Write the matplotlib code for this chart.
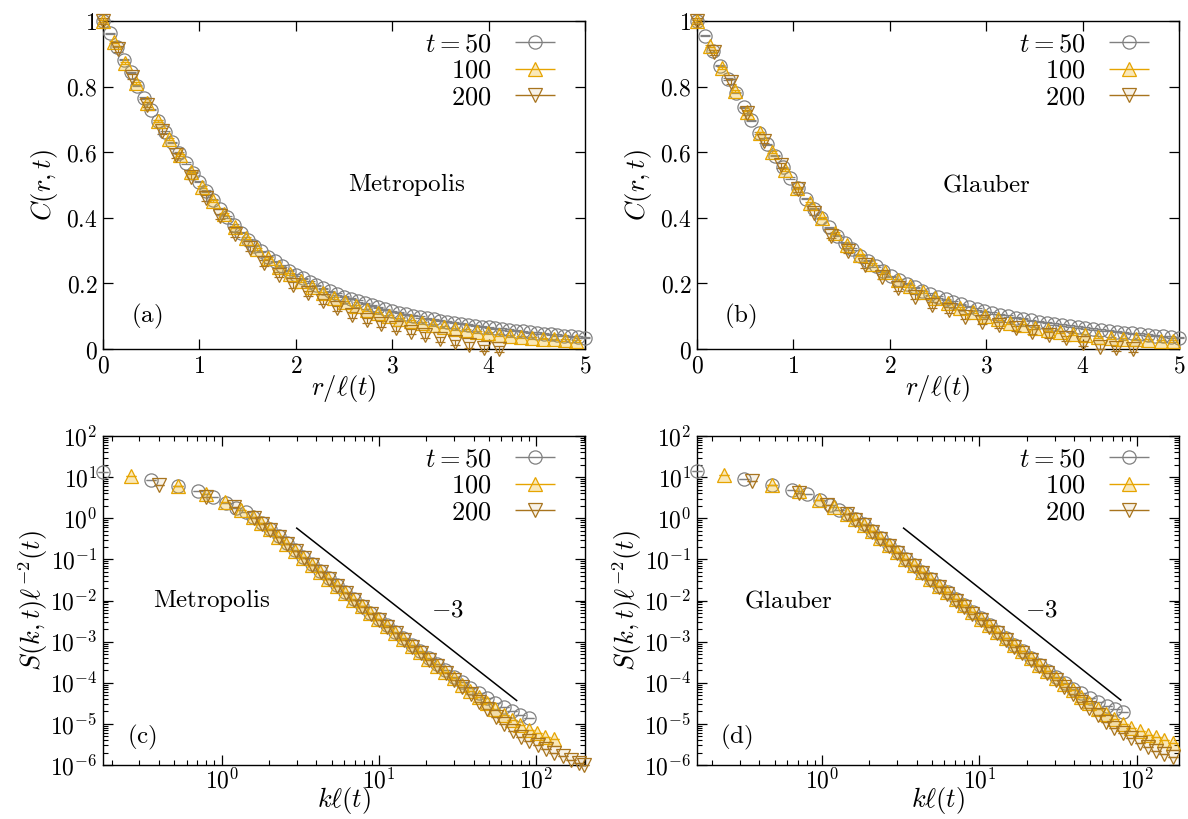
import numpy as np
import matplotlib
matplotlib.use("Agg")
import matplotlib.pyplot as plt
from matplotlib.ticker import FixedLocator, FuncFormatter, LogLocator, NullFormatter
from matplotlib.legend_handler import HandlerErrorbar

plt.rcParams['mathtext.fontset'] = 'cm'
plt.rcParams['font.family'] = ['DejaVu Serif']

# ---------------- data: C(r,t) vs r/l(t), Metropolis ----------------
a_x50 = [0, 0.071, 0.143, 0.214, 0.286, 0.357, 0.429, 0.5, 0.571, 0.643, 0.714, 0.786, 0.857, 0.929,
         1.0, 1.071, 1.143, 1.214, 1.286, 1.357, 1.429, 1.5, 1.571, 1.643, 1.714, 1.786, 1.857, 1.929,
         2.0, 2.071, 2.143, 2.214, 2.286, 2.357, 2.429, 2.5, 2.571, 2.643, 2.714, 2.786, 2.857, 2.929,
         3.0, 3.071, 3.143, 3.214, 3.286, 3.357, 3.429, 3.5, 3.571, 3.643, 3.714, 3.786, 3.857, 3.929,
         4.0, 4.071, 4.143, 4.214, 4.286, 4.357, 4.429, 4.5, 4.571, 4.643, 4.714, 4.786, 4.857, 4.929, 5.0]
a_C50 = [1.000, 0.962, 0.922, 0.882, 0.843, 0.803, 0.765, 0.730, 0.695, 0.662, 0.630, 0.598, 0.567, 0.538,
         0.510, 0.482, 0.455, 0.428, 0.402, 0.378, 0.355, 0.333, 0.315, 0.298, 0.282, 0.267, 0.253, 0.239,
         0.226, 0.215, 0.204, 0.194, 0.185, 0.176, 0.168, 0.160, 0.153, 0.146, 0.139, 0.133, 0.127, 0.121,
         0.115, 0.111, 0.106, 0.102, 0.098, 0.094, 0.090, 0.086, 0.083, 0.080, 0.077, 0.074, 0.071, 0.068,
         0.066, 0.063, 0.061, 0.058, 0.056, 0.054, 0.051, 0.049, 0.047, 0.045, 0.043, 0.041, 0.039, 0.037, 0.035]
a_x100 = [0, 0.114, 0.228, 0.342, 0.456, 0.57, 0.684, 0.798, 0.912, 1.026, 1.14, 1.254, 1.368, 1.482,
          1.596, 1.71, 1.824, 1.938, 2.052, 2.166, 2.28, 2.394, 2.508, 2.622, 2.736, 2.85, 2.964, 3.078,
          3.192, 3.306, 3.42, 3.534, 3.648, 3.762, 3.876, 3.99, 4.104, 4.218, 4.332, 4.446, 4.56, 4.674,
          4.788, 4.902]
a_C100 = [1.000, 0.935, 0.873, 0.810, 0.750, 0.695, 0.640, 0.590, 0.540, 0.495, 0.452, 0.412, 0.372, 0.337,
          0.305, 0.276, 0.250, 0.228, 0.207, 0.188, 0.171, 0.156, 0.142, 0.130, 0.119, 0.109, 0.100, 0.092,
          0.085, 0.078, 0.072, 0.066, 0.061, 0.057, 0.052, 0.048, 0.044, 0.041, 0.038, 0.035, 0.032, 0.029,
          0.027, 0.024]
a_x200 = [0, 0.152, 0.304, 0.456, 0.608, 0.76, 0.912, 1.064, 1.216, 1.368, 1.52, 1.672, 1.824, 1.976,
          2.128, 2.28, 2.432, 2.584, 2.736, 2.888, 3.04, 3.192, 3.344, 3.496, 3.648, 3.8, 3.952, 4.104]
a_C200 = [1.0, 0.915, 0.83, 0.745, 0.665, 0.59, 0.525, 0.46, 0.405, 0.35, 0.307, 0.262, 0.226, 0.195,
          0.17, 0.145, 0.124, 0.104, 0.088, 0.076, 0.063, 0.053, 0.043, 0.030, 0.020, 0.012, 0.003, 0.0]

# ---------------- data: C(r,t) vs r/l(t), Glauber ----------------
b_x50 = [0, 0.081, 0.161, 0.242, 0.322, 0.403, 0.484, 0.564, 0.645, 0.725, 0.806, 0.887, 0.967, 1.048,
         1.128, 1.209, 1.29, 1.37, 1.451, 1.531, 1.612, 1.693, 1.773, 1.854, 1.934, 2.015, 2.096, 2.176,
         2.257, 2.337, 2.418, 2.499, 2.579, 2.66, 2.74, 2.821, 2.902, 2.982, 3.063, 3.143, 3.224, 3.305,
         3.385, 3.466, 3.546, 3.627, 3.708, 3.788, 3.869, 3.949, 4.03, 4.111, 4.191, 4.272, 4.352, 4.433,
         4.514, 4.594, 4.675, 4.755, 4.836, 4.917, 4.997]
b_C50 = [1.000, 0.955, 0.909, 0.864, 0.823, 0.781, 0.737, 0.697, 0.659, 0.624, 0.589, 0.554, 0.521, 0.490,
         0.458, 0.428, 0.398, 0.371, 0.346, 0.324, 0.305, 0.285, 0.269, 0.253, 0.237, 0.222, 0.210, 0.199,
         0.188, 0.178, 0.168, 0.159, 0.151, 0.143, 0.136, 0.129, 0.122, 0.115, 0.110, 0.105, 0.101, 0.096,
         0.092, 0.087, 0.083, 0.080, 0.076, 0.073, 0.070, 0.067, 0.064, 0.061, 0.058, 0.056, 0.053, 0.050,
         0.048, 0.046, 0.043, 0.041, 0.039, 0.037, 0.035]
b_x100 = [0, 0.13, 0.26, 0.39, 0.52, 0.65, 0.78, 0.91, 1.04, 1.17, 1.3, 1.43, 1.56, 1.69, 1.82, 1.95,
          2.08, 2.21, 2.34, 2.47, 2.6, 2.73, 2.86, 2.99, 3.12, 3.25, 3.38, 3.51, 3.64, 3.77, 3.9, 4.03,
          4.16, 4.29, 4.42, 4.55, 4.68, 4.81, 4.94]
b_C100 = [1.000, 0.925, 0.857, 0.787, 0.722, 0.660, 0.600, 0.546, 0.492, 0.445, 0.400, 0.355, 0.318, 0.288,
          0.260, 0.235, 0.211, 0.191, 0.173, 0.157, 0.141, 0.126, 0.112, 0.100, 0.090, 0.080, 0.072, 0.064,
          0.057, 0.051, 0.047, 0.042, 0.038, 0.034, 0.031, 0.029, 0.027, 0.025, 0.023]
b_x200 = [0, 0.174, 0.348, 0.522, 0.696, 0.87, 1.044, 1.218, 1.392, 1.566, 1.74, 1.914, 2.088, 2.262,
          2.436, 2.61, 2.784, 2.958, 3.132, 3.306, 3.48, 3.654, 3.828, 4.002, 4.176, 4.35, 4.524]
b_C200 = [1.0, 0.905, 0.815, 0.72, 0.635, 0.56, 0.487, 0.416, 0.345, 0.30, 0.255, 0.22, 0.185, 0.16,
          0.134, 0.119, 0.099, 0.083, 0.073, 0.063, 0.053, 0.043, 0.033, 0.017, 0.007, 0.002, 0.0]

# ---------------- data: S(k,t) l^-2 vs k l(t), Metropolis ----------------
c_k50 = [0.177, 0.354, 0.531, 0.708, 0.885, 1.06, 1.24, 1.42, 1.59, 1.80, 2.03, 2.30, 2.60, 2.93, 3.31,
         3.74, 4.23, 4.78, 5.40, 6.10, 6.89, 7.79, 8.80, 9.94, 11.2, 12.7, 14.3, 16.2, 18.3, 20.7, 23.4,
         26.4, 29.8, 33.7, 38.1, 43.0, 48.6, 54.9, 62.1, 70.1, 79.3, 89.6]
c_S50 = [13.5, 8.3, 6.2, 4.6, 3.2, 2.35, 1.78, 1.38, 1.07, 0.78, 0.54, 0.36, 0.245, 0.166, 0.112, 0.076,
         0.051, 0.035, 0.0234, 0.0158, 0.0107, 0.0074, 0.0051, 0.00363, 0.00251, 0.00174, 0.0012, 0.00083,
         0.00058, 0.0004, 0.00028, 0.0002, 1.41e-4, 1.02e-4, 7.6e-5, 5.6e-5, 4.3e-5, 3.3e-5, 2.6e-5, 2.0e-5,
         1.66e-5, 1.41e-5]
c_k100 = [0.264, 0.528, 0.792, 1.056, 1.32, 1.584, 1.79, 2.02, 2.29, 2.58, 2.92, 3.30, 3.73, 4.21, 4.76,
          5.38, 6.08, 6.87, 7.76, 8.77, 9.91, 11.2, 12.7, 14.3, 16.2, 18.3, 20.6, 23.3, 26.4, 29.8, 33.7,
          38.0, 43.0, 48.6, 54.9, 62.0, 70.1, 79.2, 89.5, 101, 114, 129]
c_S100 = [10.7, 6.2, 3.9, 2.5, 1.55, 1.05, 0.76, 0.54, 0.355, 0.24, 0.162, 0.11, 0.074, 0.05, 0.034, 0.023,
          0.0155, 0.0105, 0.0072, 0.005, 0.00347, 0.0024, 0.00166, 0.00115, 0.00079, 0.00055, 0.00038,
          0.00026, 0.000182, 1.29e-4, 8.9e-5, 6.3e-5, 4.5e-5, 3.2e-5, 2.3e-5, 1.66e-5, 1.23e-5, 9.3e-6,
          7.2e-6, 5.9e-6, 4.9e-6, 4.3e-6]
c_k200 = [0.40, 0.80, 1.20, 1.60, 1.81, 2.04, 2.31, 2.61, 2.95, 3.33, 3.76, 4.25, 4.80, 5.43, 6.13, 6.93,
          7.83, 8.85, 10.0, 11.3, 12.8, 14.4, 16.3, 18.4, 20.8, 23.5, 26.6, 30.0, 33.9, 38.3, 43.3, 48.9,
          55.3, 62.5, 70.6, 79.8, 90.2, 102, 115, 130, 147, 166, 188, 202]
c_S200 = [6.5, 3.2, 1.86, 1.02, 0.74, 0.51, 0.35, 0.234, 0.158, 0.107, 0.072, 0.049, 0.033, 0.0224, 0.0151,
          0.0102, 0.0069, 0.0048, 0.0033, 0.00229, 0.00158, 0.0011, 0.00076, 0.00052, 0.00036, 0.000251,
          0.000174, 1.17e-4, 7.9e-5, 5.2e-5, 3.5e-5, 2.3e-5, 1.5e-5, 1.0e-5, 6.6e-6, 4.9e-6, 3.9e-6, 3.0e-6,
          2.4e-6, 1.95e-6, 1.62e-6, 1.32e-6, 1.12e-6, 1.0e-6]

# ---------------- data: S(k,t) l^-2 vs k l(t), Glauber ----------------
d_k50 = [0.161, 0.322, 0.483, 0.644, 0.805, 0.966, 1.127, 1.288, 1.449, 1.64, 1.85, 2.09, 2.36, 2.67,
         3.02, 3.41, 3.85, 4.35, 4.92, 5.56, 6.28, 7.10, 8.02, 9.06, 10.2, 11.6, 13.1, 14.8, 16.7, 18.9,
         21.3, 24.1, 27.2, 30.8, 34.8, 39.3, 44.4, 50.2, 56.7, 64.1, 72.4, 81.8]
d_S50 = [14.1, 8.9, 6.6, 5.0, 3.8, 2.75, 2.09, 1.62, 1.30, 0.98, 0.71, 0.49, 0.339, 0.224, 0.151, 0.105,
         0.072, 0.049, 0.034, 0.0229, 0.0158, 0.011, 0.0076, 0.0052, 0.0037, 0.0025, 0.00174, 0.0012,
         0.00083, 0.00058, 0.0004, 0.000275, 0.00019, 1.35e-4, 9.8e-5, 7.2e-5, 5.5e-5, 4.3e-5, 3.4e-5,
         2.75e-5, 2.3e-5, 1.95e-5]
d_k100 = [0.24, 0.48, 0.72, 0.96, 1.2, 1.44, 1.63, 1.84, 2.08, 2.35, 2.65, 3.0, 3.39, 3.83, 4.33, 4.89,
          5.52, 6.24, 7.05, 7.97, 9.0, 10.2, 11.5, 13.0, 14.7, 16.6, 18.7, 21.2, 23.9, 27.0, 30.5, 34.5,
          39.0, 44.0, 49.8, 56.2, 63.5, 71.8, 81.1, 91.7, 104, 117, 132, 149, 169]
d_S100 = [11.2, 6.6, 4.6, 2.8, 1.86, 1.29, 0.95, 0.69, 0.49, 0.339, 0.229, 0.155, 0.105, 0.072, 0.049,
          0.034, 0.0229, 0.0158, 0.011, 0.0076, 0.0052, 0.0036, 0.0025, 0.00174, 0.0012, 0.00083, 0.00058,
          0.0004, 0.000275, 0.00019, 1.32e-4, 9.1e-5, 6.5e-5, 4.6e-5, 3.2e-5, 2.3e-5, 1.74e-5, 1.32e-5,
          1.02e-5, 8.1e-6, 6.6e-6, 5.5e-6, 4.7e-6, 4.1e-6, 3.5e-6]
d_k200 = [0.36, 0.72, 1.08, 1.44, 1.63, 1.84, 2.08, 2.35, 2.65, 3.0, 3.39, 3.83, 4.33, 4.89, 5.52, 6.24,
          7.05, 7.97, 9.0, 10.2, 11.5, 13.0, 14.7, 16.6, 18.7, 21.2, 23.9, 27.0, 30.5, 34.5, 39.0, 44.0,
          49.8, 56.2, 63.5, 71.8, 81.1, 91.7, 104, 117, 132, 149, 169]
d_S200 = [7.9, 4.2, 2.14, 1.26, 0.93, 0.68, 0.47, 0.316, 0.214, 0.145, 0.098, 0.068, 0.046, 0.031, 0.021,
          0.0145, 0.01, 0.0069, 0.0048, 0.0033, 0.00229, 0.00158, 0.0011, 0.00076, 0.00052, 0.00036,
          0.000251, 0.00017, 1.15e-4, 7.8e-5, 5.2e-5, 3.5e-5, 2.4e-5, 1.62e-5, 1.12e-5, 7.9e-6, 5.9e-6,
          4.5e-6, 3.5e-6, 2.75e-6, 2.24e-6, 1.86e-6, 1.58e-6]

# error bar half-widths (small)
err_lin = {50: 0.002, 100: 0.003, 200: 0.008}
err_log = 0.0

# power-law guide lines (slope -3)
guide_c_k = [3.0, 75.0]
guide_c_S = [0.575, 3.7e-5]
guide_d_k = [3.3, 79.0]
guide_d_S = [0.575, 3.8e-5]

labels_t = ['$t=50$', '$100$', '$200$']
times = [50, 100, 200]
colors = {50: '#808080', 100: '#e6a400', 200: '#a8741e'}
markers = {50: 'o', 100: '^', 200: 'v'}
faces = {50: 'none', 100: (0.93, 0.70, 0.10, 0.30), 200: (0.72, 0.50, 0.15, 0.10)}

FS = 17
fig = plt.figure(figsize=(11.88, 8.19), dpi=100)
W, H = 1188, 819
def pos(l, r, t, b):
    return [l / W, 1 - b / H, (r - l) / W, (b - t) / H]

ax_a = fig.add_axes(pos(103, 585, 21, 349))
ax_b = fig.add_axes(pos(697, 1179, 21, 349))
ax_c = fig.add_axes(pos(103, 585, 436, 765))
ax_d = fig.add_axes(pos(697, 1179, 436, 765))

ms = 9.5
def plot_series(ax, x, y, t, yerr):
    ax.errorbar(x, y, yerr=yerr, fmt=markers[t], ms=ms if t == 50 else ms + 0.5,
                mfc=faces[t], mec=colors[t], mew=0.9, ecolor=colors[t], elinewidth=0.8,
                capsize=3.5, capthick=0.8, clip_on=False, zorder=3)

def add_legend(ax):
    handles = []
    for t in times:
        h = ax.errorbar([], [], xerr=[], fmt=markers[t], ms=ms, mfc=faces[t], mec=colors[t],
                        mew=0.9, ecolor=colors[t], elinewidth=1.0, capsize=5, capthick=1.0)
        handles.append(h)
    ax.legend(handles, labels_t, loc='upper right', frameon=False, markerfirst=False,
              numpoints=1, fontsize=FS + 2, handlelength=1.6, handletextpad=0.85,
              labelspacing=0.05, borderaxespad=0.0, bbox_to_anchor=(0.962, 1.0),
              handler_map={type(handles[0]): HandlerErrorbar(xerr_size=0.76)})

def style_lin(ax):
    ax.set_xlim(0, 5)
    ax.set_ylim(0, 1)
    ax.xaxis.set_major_locator(FixedLocator([0, 1, 2, 3, 4, 5]))
    ax.yaxis.set_major_locator(FixedLocator([0, 0.2, 0.4, 0.6, 0.8, 1.0]))
    ax.xaxis.set_major_formatter(FuncFormatter(lambda v, p: '$%g$' % v))
    ax.yaxis.set_major_formatter(FuncFormatter(lambda v, p: '$%g$' % v))
    ax.tick_params(which='major', direction='in', top=True, right=True, length=7, width=0.9,
                   labelsize=FS, pad=4)
    ax.set_xlabel(r'$r/\ell(t)$', fontsize=FS + 2, labelpad=-3)
    ax.set_ylabel(r'$C(r,t)$', fontsize=FS + 2, labelpad=4)

def style_log(ax, xlim):
    ax.set_xscale('log')
    ax.set_yscale('log')
    ax.set_xlim(*xlim)
    ax.set_ylim(1e-6, 1e2)
    ax.xaxis.set_major_locator(LogLocator(base=10, numticks=20))
    ax.yaxis.set_major_locator(LogLocator(base=10, numticks=20))
    ax.xaxis.set_minor_locator(LogLocator(base=10, subs=np.arange(2, 10), numticks=20))
    ax.yaxis.set_minor_locator(LogLocator(base=10, subs=np.arange(2, 10), numticks=20))
    fmt = FuncFormatter(lambda v, p: '$10^{%d}$' % int(round(np.log10(v))))
    ax.xaxis.set_major_formatter(fmt)
    ax.yaxis.set_major_formatter(fmt)
    ax.xaxis.set_minor_formatter(NullFormatter())
    ax.yaxis.set_minor_formatter(NullFormatter())
    ax.tick_params(which='major', direction='in', top=True, right=True, length=7, width=0.9,
                   labelsize=FS, pad=4)
    ax.tick_params(axis='x', which='major', pad=2)
    ax.tick_params(which='minor', direction='in', top=True, right=True, length=3.5, width=0.8)
    ax.set_xlabel(r'$k\ell(t)$', fontsize=FS + 2, labelpad=-6)
    ax.set_ylabel(r'$S(k,t)\ell^{-2}(t)$', fontsize=FS + 2, labelpad=0)

# ---- (a)
style_lin(ax_a)
plot_series(ax_a, a_x50, a_C50, 50, err_lin[50])
plot_series(ax_a, a_x100, a_C100, 100, err_lin[100])
plot_series(ax_a, a_x200, a_C200, 200, err_lin[200])
add_legend(ax_a)
ax_a.text(0.63, 0.5, r'$\mathrm{Metropolis}$', transform=ax_a.transAxes, fontsize=FS + 1,
          ha='center', va='center')
ax_a.text(0.09, 0.1, r'$(\mathrm{a})$', transform=ax_a.transAxes, fontsize=FS + 1,
          ha='center', va='center')

# ---- (b)
style_lin(ax_b)
plot_series(ax_b, b_x50, b_C50, 50, err_lin[50])
plot_series(ax_b, b_x100, b_C100, 100, err_lin[100])
plot_series(ax_b, b_x200, b_C200, 200, err_lin[200])
add_legend(ax_b)
ax_b.text(0.6, 0.5, r'$\mathrm{Glauber}$', transform=ax_b.transAxes, fontsize=FS + 1,
          ha='center', va='center')
ax_b.text(0.09, 0.1, r'$(\mathrm{b})$', transform=ax_b.transAxes, fontsize=FS + 1,
          ha='center', va='center')

# ---- (c)
style_log(ax_c, (0.176, 204))
plot_series(ax_c, c_k50, c_S50, 50, err_log)
plot_series(ax_c, c_k100, c_S100, 100, err_log)
plot_series(ax_c, c_k200, c_S200, 200, err_log)
ax_c.plot(guide_c_k, guide_c_S, color='black', lw=1.1, zorder=2)
add_legend(ax_c)
ax_c.text(0.226, 0.5, r'$\mathrm{Metropolis}$', transform=ax_c.transAxes, fontsize=FS + 1,
          ha='center', va='center')
ax_c.text(0.714, 0.47, r'$-3$', transform=ax_c.transAxes, fontsize=FS + 1,
          ha='center', va='center')
ax_c.text(0.081, 0.085, r'$(\mathrm{c})$', transform=ax_c.transAxes, fontsize=FS + 1,
          ha='center', va='center')

# ---- (d)
style_log(ax_d, (0.161, 185))
plot_series(ax_d, d_k50, d_S50, 50, err_log)
plot_series(ax_d, d_k100, d_S100, 100, err_log)
plot_series(ax_d, d_k200, d_S200, 200, err_log)
ax_d.plot(guide_d_k, guide_d_S, color='black', lw=1.1, zorder=2)
add_legend(ax_d)
ax_d.text(0.19, 0.5, r'$\mathrm{Glauber}$', transform=ax_d.transAxes, fontsize=FS + 1,
          ha='center', va='center')
ax_d.text(0.714, 0.47, r'$-3$', transform=ax_d.transAxes, fontsize=FS + 1,
          ha='center', va='center')
ax_d.text(0.081, 0.085, r'$(\mathrm{d})$', transform=ax_d.transAxes, fontsize=FS + 1,
          ha='center', va='center')

for ax in (ax_a, ax_b, ax_c, ax_d):
    for s in ax.spines.values():
        s.set_linewidth(1.0)

fig.savefig('out.png', dpi=100)
